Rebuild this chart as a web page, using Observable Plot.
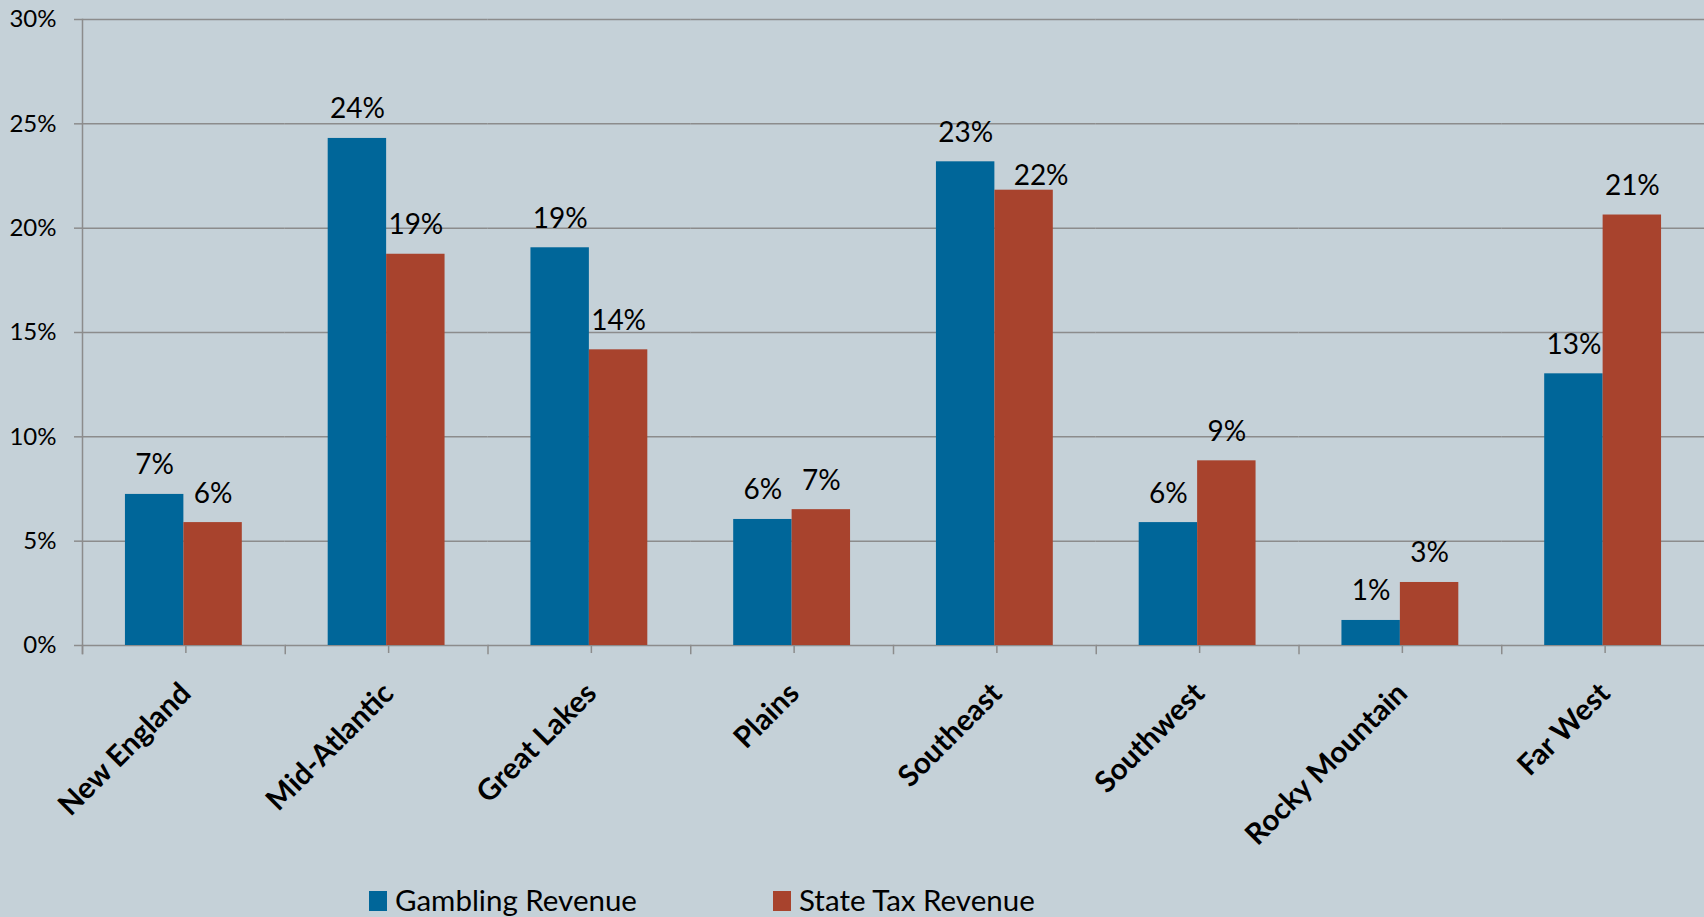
<!DOCTYPE html>
<html>
<head>
<meta charset="utf-8">
<script src="https://cdn.jsdelivr.net/npm/d3@7"></script>
<script src="https://cdn.jsdelivr.net/npm/@observablehq/plot@0.6"></script>
<style>
  html, body { margin: 0; padding: 0; background: #c5d1d8; overflow: hidden; }
  body { width: 1704px; height: 917px; position: relative; font-family: Lato, sans-serif; }
  #legend { position: absolute; top: 885px; left: 0; width: 1704px; height: 32px; }
  .item { position: absolute; top: 0; height: 32px; }
  .sw { position: absolute; top: 6px; left: 0; width: 18px; height: 20px; }
  .lab { position: absolute; top: 0; left: 26px; font-size: 29.5px; line-height: 29.5px; white-space: nowrap; color: #000; }
</style>
</head>
<body>
<div id="chart"></div>
<div id="legend"></div>
<script>
const regions = ["New England", "Mid-Atlantic", "Great Lakes", "Plains", "Southeast", "Southwest", "Rocky Mountain", "Far West"];
const seriesNames = ["Gambling Revenue", "State Tax Revenue"];
const gambling = [7.24, 24.3, 19.06, 6.04, 23.18, 5.89, 1.2, 13.02];
const stateTax = [5.89, 18.75, 14.17, 6.51, 21.82, 8.85, 3.02, 20.63];
const yTicks = [0, 5, 10, 15, 20, 25, 30];
const colors = ["#006699", "#a8432d"];

const data = [];
regions.forEach((r, i) => {
  data.push({region: r, series: seriesNames[0], value: gambling[i]});
  data.push({region: r, series: seriesNames[1], value: stateTax[i]});
});

const W = 1704, H = 872, MT = 19, MB = 227;
const gridColor = "#8c8c8c";
const isNudged = d => d.region === "Southeast" && d.series === seriesNames[1];
const labelText = d => Math.round(d.value) + "%";

const chart = Plot.plot({
  width: W,
  height: H,
  marginTop: MT,
  marginBottom: MB,
  marginLeft: 82,
  marginRight: 0,
  style: {fontFamily: "Lato, sans-serif", background: "transparent", color: "#000"},
  fx: {domain: regions, padding: 0, round: false, label: null},
  x: {domain: seriesNames, paddingInner: 0, paddingOuter: 0.735, round: false, axis: null},
  y: {domain: [0, 30], axis: null},
  color: {domain: seriesNames, range: colors},
  marks: [
    Plot.gridY(yTicks, {stroke: gridColor, strokeOpacity: 1, strokeWidth: 1.5}),
    Plot.axisY(yTicks, {anchor: "left", tickSize: 8, tickPadding: 18, tickFormat: d => d + "%", fontSize: 24, stroke: gridColor, strokeWidth: 1.5, fill: "#000", label: null}),
    Plot.frame({anchor: "left", facetAnchor: "left", stroke: gridColor, strokeWidth: 1.5, insetBottom: -8}),
    Plot.frame({anchor: "left", stroke: gridColor, strokeWidth: 1.5, insetTop: H - MT - MB, insetBottom: -8}),
    Plot.barY(data, {fx: "region", x: "series", y: "value", fill: "series"}),
    Plot.text(data, {filter: d => !isNudged(d), fx: "region", x: "series", y: "value", text: labelText, lineAnchor: "bottom", dy: -20, fontSize: 28, fill: "#000"}),
    Plot.text(data, {filter: isNudged, fx: "region", x: "series", y: "value", text: labelText, lineAnchor: "bottom", dx: 17, dy: -5, fontSize: 28, fill: "#000"}),
    Plot.axisFx({anchor: "bottom", tickRotate: -45, tickSize: 8, tickPadding: 35, dx: 2, fontSize: 29.5, fontWeight: "bold", stroke: gridColor, strokeWidth: 1.5, fill: "#000", label: null})
  ]
});
document.getElementById("chart").appendChild(chart);

const legend = document.getElementById("legend");
const legendX = [369, 773];
seriesNames.forEach((s, i) => {
  const item = document.createElement("div");
  item.className = "item";
  item.style.left = legendX[i] + "px";
  const sw = document.createElement("div");
  sw.className = "sw";
  sw.style.background = colors[i];
  const lab = document.createElement("div");
  lab.className = "lab";
  lab.textContent = s;
  item.appendChild(sw);
  item.appendChild(lab);
  legend.appendChild(item);
});
</script>
</body>
</html>
